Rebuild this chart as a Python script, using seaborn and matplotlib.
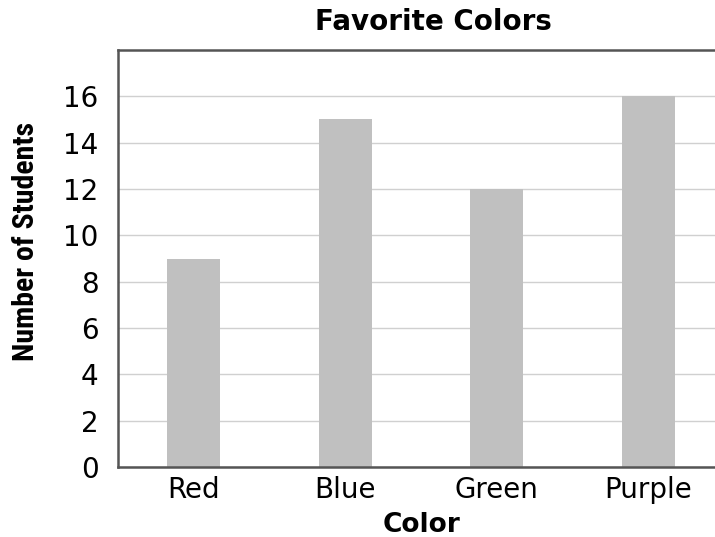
import matplotlib
matplotlib.use("Agg")
import matplotlib.pyplot as plt
import seaborn as sns
import pandas as pd

# data
colors = ['Red', 'Blue', 'Green', 'Purple']
students = [9, 15, 12, 16]
y_ticks = [0, 2, 4, 6, 8, 10, 12, 14, 16]

df = pd.DataFrame({'Color': colors, 'Students': students})

sns.set_style("white")
plt.rcParams['font.family'] = ['DejaVu Sans']

fig = plt.figure(figsize=(7.15, 5.37), dpi=100)
ax = fig.add_axes([0.165, 0.130, 0.848, 0.777])

sns.barplot(data=df, x='Color', y='Students', color='#c0c0c0', width=0.35,
            saturation=1, linewidth=0, ax=ax, zorder=2)

ax.set_xlim(-0.5, 3.5)
ax.set_ylim(0, 18)
ax.set_yticks(y_ticks)
ax.yaxis.grid(True, color='#d0d0d0', linewidth=1.0, zorder=0)
ax.set_axisbelow(True)

for side in ['left', 'bottom', 'top']:
    ax.spines[side].set_color('#555555')
    ax.spines[side].set_linewidth(1.8)
ax.spines['right'].set_visible(False)

ax.tick_params(axis='both', labelsize=20, colors='#000000', length=0)
ax.tick_params(axis='y', pad=14)
ax.tick_params(axis='x', pad=6)

ax.set_title('Favorite Colors', fontsize=20, fontweight='bold', x=0.52, pad=14,
             color='#000000')
ax.set_xlabel('Color', fontsize=19, fontweight='bold', labelpad=6, color='#000000')
ax.set_ylabel('Number of Students', fontsize=21.5, fontweight='bold',
              family=['Roboto Condensed', 'DejaVu Sans'], color='#000000')
ax.yaxis.set_label_coords(-0.128, 0.54)

fig.savefig('out.png', dpi=100)
